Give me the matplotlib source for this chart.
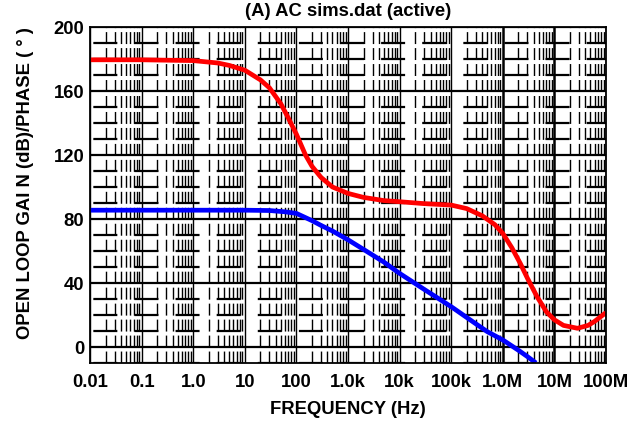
import numpy as np
import matplotlib.pyplot as plt
from matplotlib.ticker import FixedLocator, LogLocator, MultipleLocator, NullFormatter

plt.rcParams['font.family'] = ['Liberation Sans', 'DejaVu Sans']
plt.rcParams['font.weight'] = 'bold'

# phase curve (red), degrees
phase_freq = [1e-2, 1e-1, 1, 3, 5, 10, 20, 30, 50, 70, 100, 150, 200, 300, 500,
              1e3, 2e3, 5e3, 1e4, 3e4, 1e5, 2e5, 4e5, 7e5, 1e6, 1.5e6, 2.2e6,
              3e6, 4.6e6, 7e6, 1e7, 1.5e7, 2.8e7, 4.5e7, 6e7, 1e8]
phase_deg = [179.5, 179.5, 179, 177.5, 176, 173, 167, 162, 152, 143, 133, 120,
             113, 106, 100, 96, 93.5, 91.5, 90.8, 89.6, 88.7, 86.5, 82, 76.5,
             71, 62, 52, 43, 31.5, 22, 17, 13.5, 11.7, 13.5, 16, 21.5]

# open loop gain (blue), dB
gain_freq = [1e-2, 1e-1, 1, 10, 30, 60, 100, 200, 300, 500, 1e3, 2e3, 5e3,
             1e4, 3e4, 1e5, 3e5, 5e5, 1e6, 2e6, 3e6, 4.4e6]
gain_db = [85.5, 85.5, 85.5, 85.5, 85.3, 84.5, 83.5, 79, 76, 72.5, 67, 61, 53,
           46, 36, 25.2, 14.5, 9.6, 4.4, -2, -6, -10]

xtick_vals = [1e-2, 1e-1, 1, 10, 100, 1e3, 1e4, 1e5, 1e6, 1e7, 1e8]
xtick_text = ['0.01', '0.1', '1.0', '10', '100', '1.0k', '10k', '100k',
              '1.0M', '10M', '100M']
ytick_vals = [0, 40, 80, 120, 160, 200]

fs = 13.3

fig = plt.figure(figsize=(6.39, 4.23), dpi=100)
ax = fig.add_axes([90 / 639, 1 - 363 / 423, 516 / 639, 336 / 423])
ax.set_xscale('log')
ax.set_xlim(1e-2, 1e8)
ax.set_ylim(-10, 200)

ax.xaxis.set_major_locator(FixedLocator(xtick_vals))
ax.set_xticklabels(xtick_text)
ax.xaxis.set_minor_locator(LogLocator(base=10, subs=np.arange(2, 10), numticks=100))
ax.xaxis.set_minor_formatter(NullFormatter())
ax.set_yticks(ytick_vals)
ax.yaxis.set_minor_locator(MultipleLocator(10))

ax.tick_params(which='both', length=0, labelsize=fs)
ax.tick_params(axis='x', pad=8)
ax.tick_params(axis='y', pad=4)

# grid - heavy majors, dashed minors
ax.grid(which='major', axis='y', color='black', lw=1.6)
ax.grid(which='major', axis='x', color='black', lw=1.0)
ax.grid(which='minor', axis='x', color='black', lw=1.0,
        linestyle=(0, (8.6, 2.9)))
ax.grid(which='minor', axis='y', color='black', lw=1.6,
        linestyle=(17.0, (10.8, 7.7)))
for v, gl in zip(xtick_vals, ax.xaxis.get_gridlines()):
    if v in (1e6, 1e7):
        gl.set_linewidth(1.8)

for s in ax.spines.values():
    s.set_linewidth(1.3)

ax.plot(gain_freq, gain_db, color='#0000ff', lw=3.4, solid_capstyle='butt')
ax.plot(phase_freq, phase_deg, color='#ff0000', lw=3.4, solid_capstyle='butt')

ax.set_title('(A) AC sims.dat (active)', fontsize=fs, fontweight='bold', pad=8)
ax.set_xlabel('FREQUENCY (Hz)', fontsize=fs, fontweight='bold', labelpad=7)
ax.set_ylabel('OPEN LOOP GAI N (dB)/PHASE ( ° )', fontsize=fs, fontweight='bold')
ax.yaxis.set_label_coords(-0.108, 0.535)

fig.savefig('out.png', dpi=100)
